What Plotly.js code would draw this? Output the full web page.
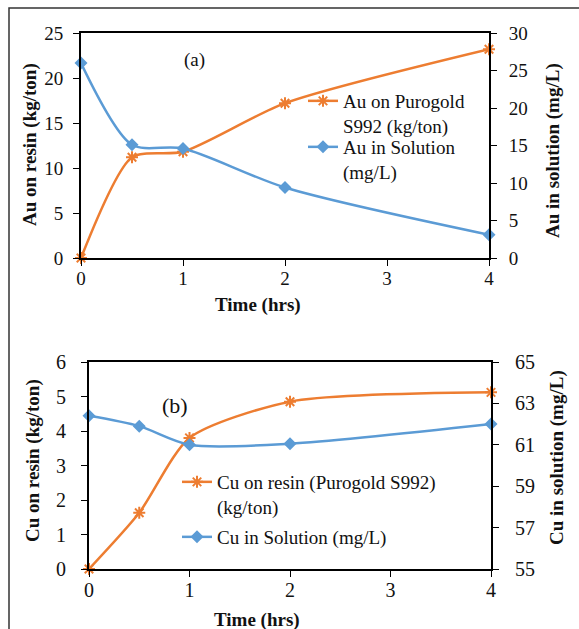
<!DOCTYPE html>
<html>
<head>
<meta charset="utf-8">
<script src="https://cdn.plot.ly/plotly-3.0.1.min.js"></script>
<style>
  html, body { margin: 0; padding: 0; background: #fff; }
  #chart { width: 579px; height: 629px; }
</style>
</head>
<body>
<div id="chart"></div>
<script>
// Sampling times (hours)
const timeHrs = [0, 0.5, 1, 2, 4];

// (a) gold loading on Purogold S992 and gold left in solution
const auOnResin = [0, 11.2, 11.8, 17.2, 23.2];      // kg/ton
const auInSolution = [26.0, 15.1, 14.6, 9.4, 3.1];  // mg/L

// (b) copper loading on resin and copper left in solution
const cuOnResin = [0, 1.63, 3.8, 4.85, 5.12];          // kg/ton
const cuInSolution = [62.4, 61.9, 61.0, 61.05, 62.0];  // mg/L

const xTicks = [0, 1, 2, 3, 4];

const ORANGE = '#ED7D31';
const BLUE = '#5B9BD5';
const FONT = 'Liberation Serif';

const W = 579, H = 629;
const px = v => v / W;       // pixel column -> paper x
const py = v => 1 - v / H;   // pixel row -> paper y

const resinStyle = {
  mode: 'lines+markers',
  line: { color: ORANGE, width: 2.5, shape: 'spline', smoothing: 0.7 },
  marker: { symbol: 'asterisk-open', size: 10, color: ORANGE, line: { color: ORANGE, width: 2 } },
  cliponaxis: false
};
const solStyle = {
  mode: 'lines+markers',
  line: { color: BLUE, width: 2.5, shape: 'spline', smoothing: 0.8 },
  marker: { symbol: 'diamond', size: 10, color: BLUE },
  cliponaxis: false
};

const traces = [
  Object.assign({ x: timeHrs, y: auOnResin, name: 'Au on Purogold<br>S992 (kg/ton)',
    xaxis: 'x', yaxis: 'y', legend: 'legend' }, resinStyle),
  Object.assign({ x: timeHrs, y: auInSolution, name: 'Au in Solution<br>(mg/L)',
    xaxis: 'x', yaxis: 'y2', legend: 'legend2' }, solStyle),
  Object.assign({ x: timeHrs, y: cuOnResin, name: 'Cu on resin (Purogold S992)<br>(kg/ton)',
    xaxis: 'x3', yaxis: 'y3', legend: 'legend3' }, resinStyle),
  Object.assign({ x: timeHrs, y: cuInSolution, name: 'Cu in Solution (mg/L)',
    xaxis: 'x3', yaxis: 'y4', legend: 'legend4' }, solStyle)
];

function tickFont(size) { return { family: FONT, size: size, color: '#111' }; }

const axisBase = {
  showline: true, linecolor: '#000', linewidth: 2,
  showgrid: false, zeroline: false,
  ticks: 'outside', ticklen: 6, tickwidth: 1, tickcolor: '#000'
};
const xBase = Object.assign({}, axisBase, {
  range: [0, 4], tickvals: xTicks, ticktext: xTicks.map(String), mirror: true
});
// companion x axes that add the inward half of each crossing tick
const xInner = {
  range: [0, 4], tickvals: xTicks, ticks: 'inside', ticklen: 6, tickwidth: 1,
  tickcolor: '#000', showticklabels: false, showline: false, showgrid: false, zeroline: false
};

const legendBase = {
  bgcolor: 'rgba(0,0,0,0)', borderwidth: 0, valign: 'top',
  font: { family: FONT, size: 19, color: '#111' },
  xanchor: 'left', yanchor: 'top', tracegroupgap: 0, itemclick: false
};

function axisTitle(text, x, y, angle) {
  return {
    text: '<b>' + text + '</b>', xref: 'paper', yref: 'paper', x: px(x), y: py(y),
    showarrow: false, textangle: angle || 0, xanchor: 'center', yanchor: 'middle',
    font: { family: FONT, size: 19, color: '#111' }
  };
}

const layout = {
  width: W, height: H,
  margin: { l: 0, r: 0, t: 0, b: 0 },
  font: { family: FONT, size: 19, color: '#111' },
  paper_bgcolor: '#fff', plot_bgcolor: 'rgba(0,0,0,0)',
  showlegend: true,
  xaxis: Object.assign({}, xBase, { domain: [px(81), px(489)], anchor: 'y',
    tickfont: tickFont(19), ticklabelstandoff: -4 }),
  xaxis2: Object.assign({}, xInner, { overlaying: 'x', anchor: 'y' }),
  yaxis: Object.assign({}, axisBase, { domain: [py(258), py(33)], anchor: 'x',
    range: [0, 25], dtick: 5, tick0: 0, ticklabelstandoff: 6, tickfont: tickFont(19) }),
  yaxis2: Object.assign({}, axisBase, { overlaying: 'y', side: 'right', anchor: 'x',
    range: [0, 30], dtick: 5, tick0: 0, ticklabelstandoff: 8, tickfont: tickFont(19) }),
  xaxis3: Object.assign({}, xBase, { domain: [px(89), px(491)], anchor: 'y3',
    tickfont: tickFont(20), ticklabelstandoff: -4 }),
  xaxis4: Object.assign({}, xInner, { overlaying: 'x3', anchor: 'y3' }),
  yaxis3: Object.assign({}, axisBase, { domain: [py(569), py(362)], anchor: 'x3',
    range: [0, 6], dtick: 1, tick0: 0, ticklabelstandoff: 11, tickfont: tickFont(20) }),
  yaxis4: Object.assign({}, axisBase, { overlaying: 'y3', side: 'right', anchor: 'x3',
    range: [55, 65], dtick: 2, tick0: 55, ticklabelstandoff: 12, tickfont: tickFont(20) }),
  legend: Object.assign({}, legendBase, { x: px(303), y: py(82) }),
  legend2: Object.assign({}, legendBase, { x: px(303), y: py(128) }),
  legend3: Object.assign({}, legendBase, { x: px(177), y: py(463) }),
  legend4: Object.assign({}, legendBase, { x: px(177), y: py(518) }),
  annotations: [
    { text: '(a)', xref: 'paper', yref: 'paper', x: px(194), y: py(47), showarrow: false,
      font: { family: FONT, size: 19, color: '#111' } },
    { text: '(b)', xref: 'paper', yref: 'paper', x: px(160), y: py(405), showarrow: false,
      font: { family: FONT, size: 22, color: '#111' } },
    axisTitle('Au on resin (kg/ton)', 30, 145, -90),
    axisTitle('Au in solution (mg/L)', 553, 151, -90),
    axisTitle('Time (hrs)', 258, 305, 0),
    axisTitle('Cu on resin (kg/ton)', 33, 461, -90),
    axisTitle('Cu in solution (mg/L)', 557, 458, -90),
    axisTitle('Time (hrs)', 257, 620, 0)
  ],
  shapes: [
    // outer frame around the figure
    { type: 'rect', xref: 'paper', yref: 'paper', x0: px(9), y0: py(8), x1: 1.05, y1: -0.05,
      line: { color: '#333', width: 1.5 }, fillcolor: 'rgba(0,0,0,0)', layer: 'below' }
  ]
};

Plotly.newPlot('chart', traces, layout, { staticPlot: true, displayModeBar: false });
</script>
</body>
</html>
